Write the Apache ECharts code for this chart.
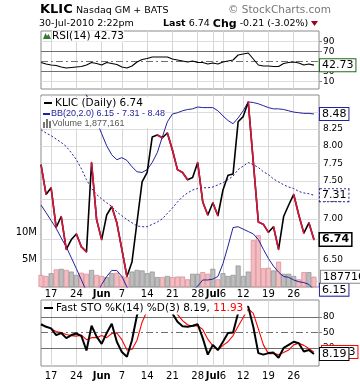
<!DOCTYPE html>
<html><head><meta charset="utf-8">
<script src="https://cdn.jsdelivr.net/npm/echarts@6/dist/echarts.min.js"></script>
<style>html,body{margin:0;padding:0;background:#fff}#c{width:360px;height:384px}</style>
</head><body><div id="c"></div>
<script>
const dates = ['2010-05-13','2010-05-14',
 '2010-05-17','2010-05-18','2010-05-19','2010-05-20','2010-05-21',
 '2010-05-24','2010-05-25','2010-05-26','2010-05-27','2010-05-28',
 '2010-06-01','2010-06-02','2010-06-03','2010-06-04',
 '2010-06-07','2010-06-08','2010-06-09','2010-06-10','2010-06-11',
 '2010-06-14','2010-06-15','2010-06-16','2010-06-17','2010-06-18',
 '2010-06-21','2010-06-22','2010-06-23','2010-06-24','2010-06-25',
 '2010-06-28','2010-06-29','2010-06-30','2010-07-01','2010-07-02',
 '2010-07-06','2010-07-07','2010-07-08','2010-07-09',
 '2010-07-12','2010-07-13','2010-07-14','2010-07-15','2010-07-16',
 '2010-07-19','2010-07-20','2010-07-21','2010-07-22','2010-07-23',
 '2010-07-26','2010-07-27','2010-07-28','2010-07-29','2010-07-30'];
const closes = [7.73,7.32,7.41,6.89,7.03,6.62,6.74,6.81,6.65,6.59,
 7.76,6.99,6.74,7.05,7.16,6.95,6.62,6.30,6.47,6.96,
 7.49,7.62,8.13,8.16,8.12,8.19,7.94,7.66,7.62,7.52,
 7.55,7.76,7.22,7.05,7.21,7.04,7.38,7.58,7.60,8.36,
 8.44,8.67,7.77,6.96,6.93,6.83,6.90,6.62,7.03,7.18,
 7.32,7.05,6.82,6.95,6.74];
const bbUpper = [9.45,9.40,9.35,9.25,9.15,9.05,8.98,8.92,8.86,8.78,
 8.59,8.37,8.18,8.00,7.87,7.80,7.83,7.79,7.70,7.63,
 7.62,7.66,7.76,7.90,8.13,8.36,8.48,8.50,8.53,8.55,
 8.56,8.59,8.58,8.58,8.58,8.53,8.45,8.38,8.33,8.42,
 8.53,8.67,8.66,8.64,8.61,8.58,8.56,8.56,8.55,8.53,
 8.51,8.50,8.49,8.49,8.48];
const bbMiddle = [8.24,8.19,8.15,8.10,8.05,7.99,7.90,7.80,7.67,7.52,
 7.40,7.32,7.26,7.21,7.16,7.09,7.04,6.99,6.95,6.91,
 6.90,6.90,6.93,6.96,7.00,7.07,7.14,7.22,7.29,7.34,
 7.38,7.40,7.41,7.41,7.42,7.45,7.48,7.52,7.57,7.66,
 7.71,7.76,7.73,7.69,7.63,7.59,7.53,7.49,7.45,7.42,
 7.40,7.36,7.34,7.33,7.31];
const bbLower = [7.18,7.08,6.98,6.88,6.76,6.65,6.52,6.39,6.26,6.13,
 6.04,6.08,6.21,6.30,6.37,6.37,6.30,6.18,6.09,6.04,
 5.98,5.93,5.90,5.88,5.90,5.93,5.97,6.01,6.06,6.10,
 6.14,6.19,6.26,6.26,6.27,6.30,6.45,6.66,6.89,6.90,
 6.87,6.84,6.81,6.74,6.62,6.51,6.42,6.35,6.30,6.29,
 6.26,6.24,6.23,6.21,6.15];
const volumes = [2200000,2000000,2500000,3200000,3300000,3100000,2800000,2200000,2600000,2400000,
 3100000,2200000,2000000,1800000,2500000,2600000,2000000,1800000,2800000,3100000,
 3000000,2500000,2800000,1800000,1800000,2000000,1800000,1900000,1900000,1400000,
 2400000,2400000,2700000,2400000,3300000,1400000,2500000,2000000,2200000,3900000,
 2000000,2800000,8500000,9400000,3400000,3500000,3000000,4600000,2400000,2400000,
 2000000,1400000,2700000,2700000,1877161];
const rsi = [48,45,43,42,39,37,38,39,40,43,
 48,46,43,48,46,44,39,37,41,49,
 54,56,59,59,59,59,55,53,51,49,
 51,48,48,45,47,45,49,51,53,63,
 65,67,55,43,41,41,40,40,46,48,
 49,47,43,45,42.73];
const stoK = [66,61,58,45,49,39,45,48,43,15,
 63,42,28,49,67,32,12,3,35,84,
 100,92,100,98,94,97,87,71,62,61,
 63,66,39,7,26,16,32,49,50,88,
 100,100,61,10,7,10,11,1,20,26,
 32,29,13,16,8.19];
const stoD = [65,62,57,52,50,46,44,43,45,36,
 40,40,44,40,48,49,36,16,17,35,
 70,92,97,97,97,96,93,85,73,65,
 62,63,56,37,24,16,25,32,44,62,
 79,96,87,57,26,9,9,7,11,16,
 26,29,25,19,11.93];
const tickDates = ['2010-05-17','2010-05-24','2010-06-01','2010-06-07','2010-06-14','2010-06-21','2010-06-28','2010-07-01','2010-07-06','2010-07-12','2010-07-19','2010-07-26'];
const tickLabels = ['17','24','Jun','7','14','21','28','Jul','6','12','19','26'];
const priceTicks = [6.25,6.5,6.75,7,7.25,7.5,7.75,8,8.25,8.5];
const rsiTicks = [10,30,70,90];
const stoTicks = [20,50,80];
const volTicks = [5000000,10000000];

const N = dates.length, L = N - 1;
const axisDates = dates.concat(['2010-08-02']);
const FONT = 'DejaVu Sans';
const RED = '#dc143c', BLUE = '#2222a0';
const isTick = (i, v) => tickDates.indexOf(v) >= 0;

function xAxisFor(g, showLabels, margin) {
  return {
    type: 'category', gridIndex: g, data: axisDates, boundaryGap: false,
    axisLine: {show: false}, axisTick: {show: false},
    axisLabel: {show: showLabels, interval: isTick, margin: margin, fontSize: 10, fontFamily: FONT, color: '#000',
      formatter: v => { const k = tickDates.indexOf(v); if (k < 0) return ''; const t = tickLabels[k]; return /^\d+$/.test(t) ? t : '{m|' + t + '}'; },
      rich: {m: {fontWeight: 'bold', fontSize: 10, fontFamily: FONT, color: '#000'}}},
    splitLine: {show: true, interval: isTick, lineStyle: {color: '#d6d6d6', width: 1}}
  };
}
function boxLabel(text, border, extra) {
  return Object.assign({show: true, formatter: () => text, distance: 6, fontSize: 11, fontFamily: FONT, color: '#000',
    backgroundColor: '#fff', borderColor: border, borderWidth: 1, padding: [1, 2, 0, 2]}, extra || {});
}
const grey = '#707070', light = '#dcdcdc';
const gridStyle = {show: true, borderColor: '#8a8a8a', borderWidth: 1, backgroundColor: '#fff'};

const volData = volumes.map((v, i) => {
  const up = i > 0 ? closes[i] >= closes[i - 1] : false;
  return {value: v, itemStyle: {color: up ? '#bdbdbd' : '#f3bcc1', borderColor: up ? '#8c8c8c' : '#d98a94', borderWidth: 0.7}};
});

const option = {
  animation: false,
  grid: [
    Object.assign({left: 41, right: 41, top: 31, height: 58}, gridStyle),
    Object.assign({left: 41, right: 41, top: 95, height: 192}, gridStyle),
    Object.assign({left: 41, right: 41, top: 300, height: 66}, gridStyle)
  ],
  xAxis: [xAxisFor(0, false, 2), xAxisFor(1, true, 2), xAxisFor(2, true, 5)],
  yAxis: [
    {type: 'value', gridIndex: 0, position: 'right', min: -5, max: 111, splitLine: {show: false}, axisLine: {show: false},
      axisTick: {show: true, length: 3, customValues: rsiTicks, lineStyle: {color: '#888'}},
      axisLabel: {customValues: rsiTicks, margin: 4, fontSize: 9, fontFamily: FONT, color: '#000'}},
    {type: 'log', logBase: 10, gridIndex: 1, position: 'right', min: 6.18, max: 8.78, splitLine: {show: false},
      axisLine: {show: false}, axisTick: {show: false}, axisLabel: {show: false}},
    {type: 'value', gridIndex: 1, position: 'left', min: 0, max: 34900000, splitLine: {show: false}, axisLine: {show: false},
      axisTick: {show: false},
      axisLabel: {customValues: volTicks, margin: 4, fontSize: 10, fontFamily: FONT, color: '#000', formatter: v => (v / 1e6) + 'M'}},
    {type: 'value', gridIndex: 2, position: 'right', min: -15, max: 113, splitLine: {show: false}, axisLine: {show: false},
      axisTick: {show: true, length: 3, customValues: stoTicks, lineStyle: {color: '#888'}},
      axisLabel: {customValues: stoTicks, margin: 4, fontSize: 9, fontFamily: FONT, color: '#000'}}
  ],
  series: [
    {type: 'line', xAxisIndex: 0, yAxisIndex: 0, data: rsi, symbol: 'none', lineStyle: {color: '#000', width: 1.1}, z: 3,
      endLabel: boxLabel(rsi[L].toFixed(2), '#1d6b1d'),
      markLine: {silent: true, symbol: 'none', z: 1, label: {show: false},
        data: [{yAxis: 90, lineStyle: {color: light, type: 'solid', width: 1}}, {yAxis: 10, lineStyle: {color: light, type: 'solid', width: 1}},
          {yAxis: 70, lineStyle: {color: grey, type: 'solid', width: 1}}, {yAxis: 30, lineStyle: {color: grey, type: 'solid', width: 1}},
          {yAxis: 50, lineStyle: {color: grey, type: [7, 3, 2, 3], width: 1}}]}},
    {type: 'bar', xAxisIndex: 1, yAxisIndex: 2, data: volData, barWidth: 5, z: 1,
      markPoint: {symbol: 'rect', symbolSize: 0, silent: true,
        data: [{coord: [dates[L], volumes[L]], value: volumes[L]}],
        label: {show: true, position: 'right', distance: 7, formatter: String(volumes[L]), fontSize: 11, fontFamily: FONT, color: '#000',
          backgroundColor: '#fff', borderColor: '#888', borderWidth: 1, padding: [1, 2, 0, 2]}}},
    {type: 'line', xAxisIndex: 1, yAxisIndex: 1, data: bbUpper, symbol: 'none', lineStyle: {color: BLUE, width: 1}, z: 3,
      endLabel: boxLabel(bbUpper[L].toFixed(2), BLUE)},
    {type: 'line', xAxisIndex: 1, yAxisIndex: 1, data: bbMiddle, symbol: 'none', lineStyle: {color: BLUE, width: 1, type: [2, 2]}, z: 3,
      endLabel: boxLabel(bbMiddle[L].toFixed(2), BLUE, {borderType: 'dotted'})},
    {type: 'line', xAxisIndex: 1, yAxisIndex: 1, data: bbLower, symbol: 'none', lineStyle: {color: BLUE, width: 1}, z: 3,
      endLabel: boxLabel(bbLower[L].toFixed(2), BLUE)},
    {type: 'line', xAxisIndex: 1, yAxisIndex: 1, data: closes, symbol: 'none', lineStyle: {color: '#000', width: 1.6}, z: 4,
      endLabel: boxLabel(closes[L].toFixed(2), '#000', {fontWeight: 'bold', borderWidth: 1.5}),
      markLine: {silent: true, symbol: 'none', z: 1,
        lineStyle: {color: light, type: 'solid', width: 1},
        label: {show: true, position: 'end', distance: 4, fontSize: 9, fontFamily: FONT, color: '#000', formatter: p => Number(p.value).toFixed(2)},
        data: priceTicks.map(v => ({yAxis: v}))}},
    {type: 'custom', xAxisIndex: 1, yAxisIndex: 1, z: 5, clip: true,
      data: closes.map((c, i) => [i, i > 0 ? closes[i - 1] : c + 1, c]),
      renderItem: (params, api) => {
        const i = api.value(0), prev = api.value(1), cur = api.value(2);
        if (i === 0 || cur >= prev) return null;
        const a = api.coord([i - 1, prev]), b = api.coord([i, cur]);
        return {type: 'line', shape: {x1: a[0], y1: a[1], x2: b[0], y2: b[1]}, style: {stroke: RED, lineWidth: 1.6, lineCap: 'round'}};
      }},
    {type: 'line', xAxisIndex: 2, yAxisIndex: 3, data: stoD, symbol: 'none', lineStyle: {color: '#ff0000', width: 1.1}, z: 3,
      endLabel: boxLabel(stoD[L].toFixed(2), '#ff0000', {distance: 8})},
    {type: 'line', xAxisIndex: 2, yAxisIndex: 3, data: stoK, symbol: 'none', lineStyle: {color: '#000', width: 2}, z: 4,
      endLabel: boxLabel(stoK[L].toFixed(2), '#000'),
      markLine: {silent: true, symbol: 'none', z: 1, label: {show: false},
        data: [{yAxis: 80, lineStyle: {color: grey, type: 'solid', width: 1}}, {yAxis: 20, lineStyle: {color: grey, type: 'solid', width: 1}},
          {yAxis: 50, lineStyle: {color: grey, type: [7, 3, 2, 3], width: 1}}]}}
  ],
  graphic: [
    {type: 'text', z: 100, x: 40, y: 10, style: {text: 'KLIC', font: 'bold 13px "DejaVu Sans"', fill: '#000', verticalAlign: 'middle'}},
    {type: 'text', z: 100, x: 76, y: 11, style: {text: 'Nasdaq GM + BATS', font: '9.5px "DejaVu Sans"', fill: '#000', verticalAlign: 'middle'}},
    {type: 'text', z: 100, x: 39, y: 24, style: {text: '30-Jul-2010 2:22pm', font: '9.5px "DejaVu Sans"', fill: '#000', verticalAlign: 'middle'}},
    {type: 'text', z: 100, x: 228, y: 10, style: {text: '\u00a9 StockCharts.com', font: '10.5px "DejaVu Sans"', fill: '#777', verticalAlign: 'middle'}},
    {type: 'text', z: 100, x: 163, y: 24, style: {text: '{b|Last} ' + closes[L].toFixed(2) + ' {c|Chg} -0.21 (-3.02%)', font: '9.5px "DejaVu Sans"', fill: '#000', verticalAlign: 'middle',
      rich: {b: {font: 'bold 9.5px "DejaVu Sans"', fill: '#000'}, c: {font: 'bold 11px "DejaVu Sans"', fill: '#000'}}}},
    {type: 'polygon', z: 100, shape: {points: [[311, 21], [318, 21], [314.5, 26]]}, style: {fill: '#a00020'}},
    {type: 'polygon', z: 100, shape: {points: [[43, 39], [45.5, 33], [47, 36], [48.5, 34], [51, 39]]}, style: {fill: '#2e7d32'}},
    {type: 'text', z: 100, x: 52, y: 36, style: {text: 'RSI(14) ' + rsi[L].toFixed(2), font: '10.5px "DejaVu Sans"', fill: '#000', verticalAlign: 'middle', backgroundColor: '#fff'}},
    {type: 'rect', z: 100, shape: {x: 41, y: 97, width: 120, height: 31}, style: {fill: '#fff'}},
    {type: 'rect', z: 101, shape: {x: 44, y: 102, width: 8, height: 2}, style: {fill: '#000'}},
    {type: 'text', z: 101, x: 55, y: 103, style: {text: 'KLIC (Daily) ' + closes[L].toFixed(2), font: '10.5px "DejaVu Sans"', fill: '#000', verticalAlign: 'middle', backgroundColor: '#fff'}},
    {type: 'rect', z: 101, shape: {x: 43, y: 113, width: 7, height: 2}, style: {fill: BLUE}},
    {type: 'text', z: 101, x: 51, y: 114, style: {text: 'BB(20,2.0) ' + bbLower[L].toFixed(2) + ' - ' + bbMiddle[L].toFixed(2) + ' - ' + bbUpper[L].toFixed(2), font: '9px "Liberation Sans"', fill: BLUE, verticalAlign: 'middle', backgroundColor: '#fff'}},
    {type: 'rect', z: 101, shape: {x: 43, y: 122, width: 2, height: 6}, style: {fill: '#777'}},
    {type: 'rect', z: 101, shape: {x: 46, y: 119, width: 2, height: 9}, style: {fill: '#777'}},
    {type: 'rect', z: 101, shape: {x: 49, y: 121, width: 2, height: 7}, style: {fill: '#777'}},
    {type: 'text', z: 101, x: 52, y: 124, style: {text: 'Volume ' + volumes[L].toLocaleString('en-US'), font: '9px "Liberation Sans"', fill: '#555', verticalAlign: 'middle', backgroundColor: '#fff'}},
    {type: 'rect', z: 101, shape: {x: 44, y: 307, width: 9, height: 2}, style: {fill: '#000'}},
    {type: 'text', z: 101, x: 56, y: 308, style: {text: 'Fast STO %K(14) %D(3) ' + stoK[L].toFixed(2) + ', {r|' + stoD[L].toFixed(2) + '}', font: '10.5px "DejaVu Sans"', fill: '#000', verticalAlign: 'middle', backgroundColor: '#fff', padding: [1, 4, 1, 0],
      rich: {r: {font: '10.5px "DejaVu Sans"', fill: '#ff0000'}}}}
  ]
};
const chart = echarts.init(document.getElementById('c'), null, {renderer: 'canvas'});
chart.setOption(option);
</script></body></html>
